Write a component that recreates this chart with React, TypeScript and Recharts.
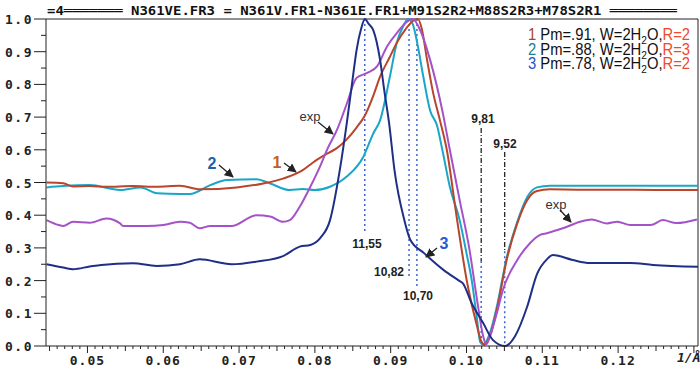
import React from "react";
import { LineChart, Line, XAxis, YAxis, ReferenceLine } from "recharts";

// q = 1/d (1/Å), normalized intensity
const pm91: [number, number][] = [
  [0.0446, 0.5], [0.0468, 0.498], [0.0481, 0.488], [0.0503, 0.489], [0.0525, 0.487],
  [0.056, 0.489], [0.0591, 0.487], [0.0622, 0.49], [0.0648, 0.479], [0.0697, 0.485],
  [0.0732, 0.497], [0.0758, 0.512], [0.0784, 0.538], [0.0798, 0.562], [0.0816, 0.588],
  [0.0829, 0.605], [0.0842, 0.632], [0.0855, 0.668], [0.0866, 0.705], [0.0877, 0.765],
  [0.0886, 0.824], [0.0898, 0.88], [0.0908, 0.927], [0.092, 0.97], [0.0932, 0.998],
  [0.0936, 1.0], [0.0941, 0.97], [0.0948, 0.875], [0.0956, 0.774], [0.0965, 0.69],
  [0.0974, 0.6], [0.0987, 0.395], [0.1001, 0.192], [0.1014, 0.06], [0.102, 0.012],
  [0.1024, 0.004], [0.1031, 0.03], [0.104, 0.11], [0.1053, 0.263], [0.1067, 0.375],
  [0.108, 0.446], [0.1093, 0.474], [0.111, 0.479], [0.115, 0.478], [0.12, 0.478],
  [0.125, 0.477], [0.1306, 0.477],
];

const pm88: [number, number][] = [
  [0.0446, 0.485], [0.0468, 0.489], [0.0503, 0.492], [0.0543, 0.477], [0.057, 0.485],
  [0.0592, 0.467], [0.0622, 0.465], [0.0635, 0.465], [0.0662, 0.492], [0.0684, 0.508],
  [0.0723, 0.51], [0.0741, 0.497], [0.0767, 0.477], [0.0784, 0.48], [0.08, 0.477],
  [0.082, 0.487], [0.0842, 0.518], [0.0864, 0.579], [0.0877, 0.65], [0.0886, 0.69],
  [0.0899, 0.824], [0.0908, 0.927], [0.0917, 0.98], [0.0923, 1.0], [0.0929, 0.985],
  [0.0935, 0.927], [0.0943, 0.824], [0.0952, 0.72], [0.0961, 0.675], [0.0969, 0.59],
  [0.0978, 0.487], [0.0991, 0.385], [0.1, 0.284], [0.1007, 0.2], [0.1014, 0.08],
  [0.1018, 0.012], [0.1022, 0.004], [0.1031, 0.04], [0.104, 0.12], [0.1053, 0.27],
  [0.1067, 0.38], [0.108, 0.455], [0.1093, 0.485], [0.111, 0.49], [0.12, 0.49],
  [0.1306, 0.49],
];

const pm78: [number, number][] = [
  [0.0446, 0.25], [0.0468, 0.24], [0.0481, 0.235], [0.0503, 0.243], [0.0518, 0.248],
  [0.056, 0.253], [0.0591, 0.245], [0.0622, 0.25], [0.0648, 0.265], [0.069, 0.25],
  [0.0723, 0.258], [0.0758, 0.275], [0.078, 0.304], [0.0794, 0.309], [0.0807, 0.33],
  [0.082, 0.385], [0.0833, 0.54], [0.0842, 0.68], [0.085, 0.82], [0.0855, 0.905],
  [0.0861, 0.97], [0.0866, 1.0], [0.0871, 0.985], [0.0877, 0.966], [0.0886, 0.875],
  [0.0892, 0.774], [0.0898, 0.68], [0.0905, 0.538], [0.0918, 0.385], [0.0926, 0.324],
  [0.0944, 0.284], [0.097, 0.232], [0.099, 0.2], [0.0995, 0.192], [0.1007, 0.13],
  [0.1022, 0.07], [0.1035, 0.018], [0.1051, 0.0], [0.1064, 0.03], [0.108, 0.12],
  [0.1093, 0.22], [0.1106, 0.265], [0.1114, 0.278], [0.114, 0.263], [0.1163, 0.254],
  [0.1216, 0.254], [0.1246, 0.248], [0.1306, 0.242],
];

const expData: [number, number][] = [
  [0.0446, 0.385], [0.0462, 0.37], [0.0468, 0.367], [0.0481, 0.38], [0.0503, 0.377],
  [0.0525, 0.39], [0.0543, 0.375], [0.0547, 0.367], [0.0578, 0.367], [0.06, 0.37],
  [0.0622, 0.38], [0.0635, 0.377], [0.0648, 0.36], [0.0662, 0.367], [0.069, 0.367],
  [0.0723, 0.4], [0.0741, 0.396], [0.0758, 0.38], [0.0767, 0.385], [0.078, 0.426],
  [0.0794, 0.487], [0.0807, 0.55], [0.0816, 0.6], [0.0829, 0.66], [0.0842, 0.74],
  [0.0855, 0.82], [0.0869, 0.835], [0.0882, 0.855], [0.0895, 0.915], [0.0908, 0.957],
  [0.0929, 1.0], [0.094, 0.96], [0.0952, 0.875], [0.0969, 0.71], [0.0978, 0.6],
  [0.0991, 0.446], [0.1004, 0.294], [0.1014, 0.14], [0.1022, 0.03], [0.1026, 0.005],
  [0.1031, 0.03], [0.104, 0.1], [0.1048, 0.171], [0.1067, 0.263], [0.1084, 0.315],
  [0.1097, 0.34], [0.1106, 0.345], [0.1127, 0.36], [0.115, 0.38], [0.1165, 0.387],
  [0.1185, 0.375], [0.1199, 0.38], [0.1216, 0.37], [0.1243, 0.37], [0.1259, 0.385],
  [0.1277, 0.376], [0.1304, 0.387],
];

const xMinor = Array.from({ length: 86 }, (_, i) => (45 + i) / 1000);
const yTicks = Array.from({ length: 21 }, (_, i) => i / 20);
const dotted = [
  { d: 11.55, from: 1, to: 0.35 },
  { d: 10.82, from: 1, to: 0.21 },
  { d: 10.7, from: 1, to: 0.18 },
];
const dashDot = [
  { d: 9.81, from: 0.667, to: 0.26 },
  { d: 9.52, from: 0.593, to: 0.29 },
];

const X_MIN = 0.04453;
const X_MAX = 0.13054;
const mono = "'DejaVu Sans Mono', 'Liberation Mono', monospace";
const sans = "'Liberation Sans', Arial, sans-serif";

const toPts = (arr: [number, number][]) => arr.map(([q, v]) => ({ q, v }));

function XTick(props: any) {
  const { x, y, payload } = props;
  const k = Math.round(payload.value * 1000);
  const major = k % 10 === 0;
  const len = major ? 7 : k % 5 === 0 ? 5 : 3;
  return (
    <g>
      <line x1={x} x2={x} y1={y} y2={y + len} stroke="#222" strokeWidth={1} />
      {major && k < 130 && (
        <text x={x} y={y + 19} textAnchor="middle" fontFamily={mono} fontWeight="bold"
          fontSize={13} letterSpacing={1} fill="#222">
          {(k / 1000).toFixed(2)}
        </text>
      )}
    </g>
  );
}

function YTick(props: any) {
  const { x, y, payload } = props;
  const k = Math.round(payload.value * 100);
  const major = k % 10 === 0;
  return (
    <g>
      <line x1={x - (major ? 12 : 5)} x2={x} y1={y} y2={y} stroke="#222" strokeWidth={1} />
      {major && (
        <text x={x - 13} y={y + 5} textAnchor="end" fontFamily={mono} fontWeight="bold"
          fontSize={13} letterSpacing={1.5} fill="#222">
          {(k / 100).toFixed(1)}
        </text>
      )}
    </g>
  );
}

const legendRows = [
  { n: "1", color: "#a8461c", pm: ".91", r: "2" },
  { n: "2", color: "#17809f", pm: ".88", r: "3" },
  { n: "3", color: "#2452c8", pm: ".78", r: "2" },
];

const notes = [
  { text: "2", x: 212, y: 169, color: "#1a64a4", size: 16, bold: true, ax: [219, 165, 233, 177] },
  { text: "1", x: 277, y: 168, color: "#c0601e", size: 16, bold: true, ax: [284, 163, 296, 172] },
  { text: "exp", x: 310, y: 121, color: "#333", size: 13, bold: false, ax: [318, 122, 333, 134] },
  { text: "3", x: 444, y: 249, color: "#2a5ad0", size: 16, bold: true, ax: [437, 248, 426, 257] },
  { text: "exp", x: 556, y: 209, color: "#333", size: 13, bold: false, ax: [560, 210, 571, 222] },
];

const dLabels = [
  { text: "11,55", x: 367, y: 248, anchor: "middle" },
  { text: "10,82", x: 404, y: 276, anchor: "end" },
  { text: "10,70", x: 418, y: 300, anchor: "middle" },
  { text: "9,81", x: 483, y: 123, anchor: "middle" },
  { text: "9,52", x: 505, y: 148, anchor: "middle" },
];

export default function App() {
  return (
    <div style={{ position: "absolute", left: 0, top: 0, width: 700, height: 372, background: "#fff" }}>
      <LineChart width={700} height={372} margin={{ top: 19, right: 2, left: 0, bottom: 0 }}>
        <XAxis dataKey="q" type="number" domain={[X_MIN, X_MAX]} allowDataOverflow
          ticks={xMinor} interval={0} tick={<XTick />} tickLine={false} tickSize={0}
          tickMargin={0} height={26} axisLine={{ stroke: "#222" }} />
        <YAxis type="number" domain={[0, 1]} ticks={yTicks} interval={0} tick={<YTick />}
          tickLine={false} tickSize={0} tickMargin={0} width={46} axisLine={{ stroke: "#222" }} />
        <ReferenceLine y={1} stroke="#222" />
        <ReferenceLine x={X_MAX} stroke="#222" />
        {dotted.map((l) => (
          <ReferenceLine key={l.d} segment={[{ x: 1 / l.d, y: l.from }, { x: 1 / l.d, y: l.to }]}
            stroke="#3a66d6" strokeWidth={1.5} strokeDasharray="2 3" />
        ))}
        {dashDot.map((l) => (
          <ReferenceLine key={l.d} segment={[{ x: 1 / l.d, y: l.from }, { x: 1 / l.d, y: l.to }]}
            stroke="#111" strokeWidth={1.2} strokeDasharray="5 2 1 2" />
        ))}
        {dashDot.map((l) => (
          <ReferenceLine key={"b" + l.d} segment={[{ x: 1 / l.d, y: l.to }, { x: 1 / l.d, y: 0 }]}
            stroke="#3a66d6" strokeWidth={1.5} strokeDasharray="2 3" />
        ))}
        <Line data={toPts(pm88)} dataKey="v" type="monotone" stroke="#1aa6c8" strokeWidth={2}
          dot={false} isAnimationActive={false} />
        <Line data={toPts(pm91)} dataKey="v" type="monotone" stroke="#b8452c" strokeWidth={2}
          dot={false} isAnimationActive={false} />
        <Line data={toPts(expData)} dataKey="v" type="monotone" stroke="#a552c8" strokeWidth={2}
          dot={false} isAnimationActive={false} />
        <Line data={toPts(pm78)} dataKey="v" type="monotone" stroke="#1f2f86" strokeWidth={2}
          dot={false} isAnimationActive={false} />
      </LineChart>
      <svg width={700} height={372} style={{ position: "absolute", left: 0, top: 0, pointerEvents: "none" }}>
        <defs>
          <marker id="ah" viewBox="0 0 10 10" refX="9" refY="5" markerWidth="7" markerHeight="7" orient="auto">
            <path d="M0,0 L10,5 L0,10 z" fill="#222" />
          </marker>
        </defs>
        <text x={47} y={15} fontFamily={mono} fontWeight="bold" fontSize={13} fill="#111"
          textLength={630} lengthAdjust="spacingAndGlyphs">
          {"=4═══════ N361VE.FR3 = N361V.FR1-N361E.FR1+M91S2R2+M88S2R3+M78S2R1 ════════"}
        </text>
        {legendRows.map((r, i) => (
          <text key={r.n} x={528} y={40 + i * 14.5} fontFamily={sans} fontSize={16} fill="#111"
            textLength={162} lengthAdjust="spacingAndGlyphs">
            <tspan fill={r.color}>{r.n}</tspan>
            <tspan>{` Pm=${r.pm}, W=2H`}</tspan>
            <tspan fontSize={11} dy={4}>2</tspan>
            <tspan dy={-4}>O,</tspan>
            <tspan fill="#ee4a2e">{`R=${r.r}`}</tspan>
          </text>
        ))}
        {notes.map((n, i) => (
          <g key={i}>
            <text x={n.x} y={n.y} textAnchor="middle" fontFamily={sans} fontSize={n.size}
              fontWeight={n.bold ? "bold" : "normal"} fill={n.color}>
              {n.text}
            </text>
            <line x1={n.ax[0]} y1={n.ax[1]} x2={n.ax[2]} y2={n.ax[3]} stroke="#222"
              strokeWidth={1.3} markerEnd="url(#ah)" />
          </g>
        ))}
        {dLabels.map((l) => (
          <text key={l.text} x={l.x} y={l.y} textAnchor={l.anchor as any} fontFamily={sans}
            fontSize={12} fontWeight="bold" fill="#222">
            {l.text}
          </text>
        ))}
        <text x={677} y={362} fontFamily={mono} fontWeight="bold" fontStyle="italic" fontSize={13} fill="#222">
          1/Å
        </text>
      </svg>
    </div>
  );
}
